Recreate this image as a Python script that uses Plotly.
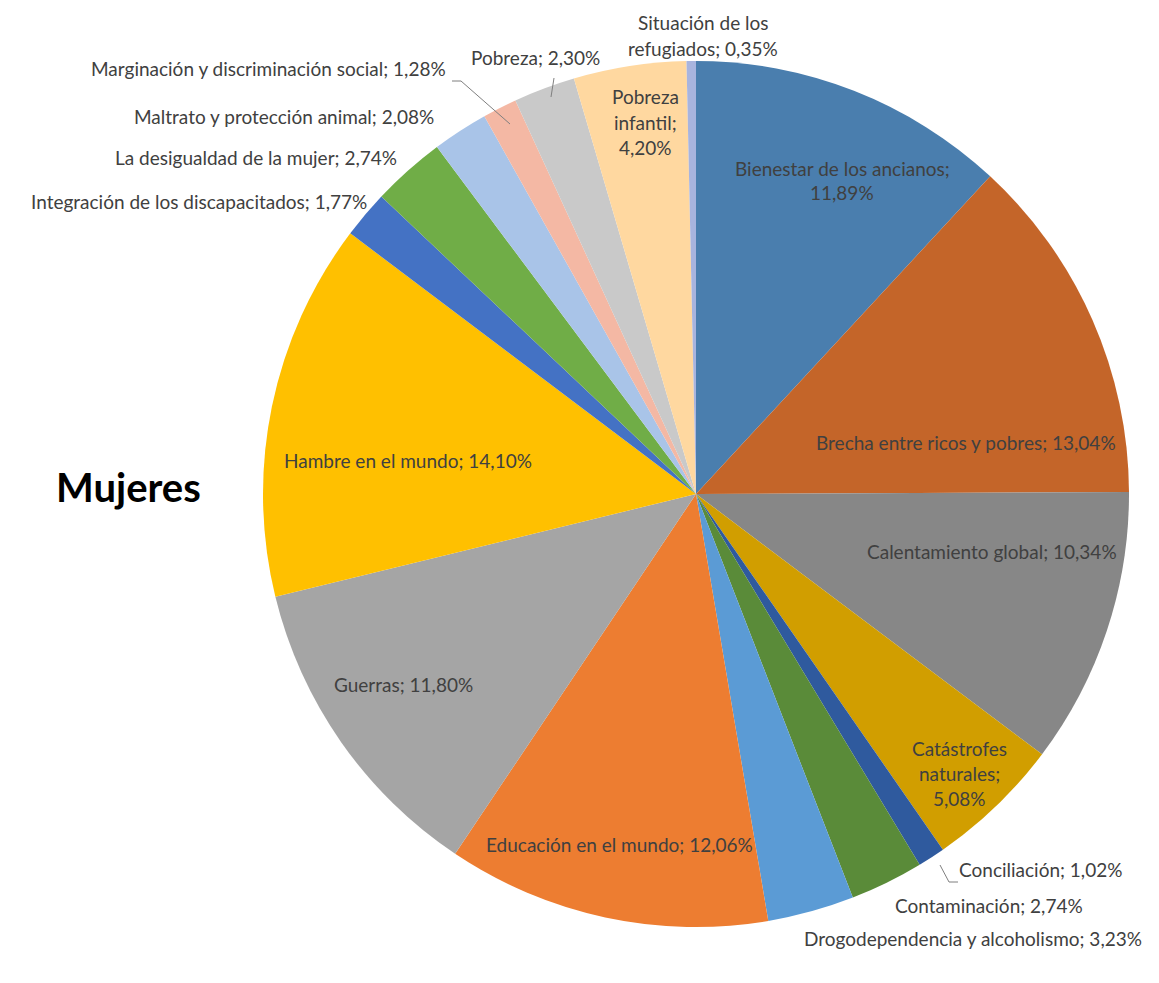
import plotly.graph_objects as go

W, H = 1159, 983

categories = [
    "Bienestar de los ancianos", "Brecha entre ricos y pobres", "Calentamiento global",
    "Catástrofes naturales", "Conciliación", "Contaminación",
    "Drogodependencia y alcoholismo", "Educación en el mundo", "Guerras",
    "Hambre en el mundo", "Integración de los discapacitados",
    "La desigualdad de la mujer", "Maltrato y protección animal",
    "Marginación y discriminación social", "Pobreza", "Pobreza infantil",
    "Situación de los refugiados",
]
values = [11.89, 13.04, 10.34, 5.08, 1.02, 2.74, 3.23, 12.06, 11.80, 14.10,
          1.77, 2.74, 2.08, 1.28, 2.30, 4.20, 0.35]
colors = ["#4A7EAE", "#C46529", "#878787", "#D19E00", "#2F5A9E", "#5A8B39",
          "#5B9BD5", "#ED7D31", "#A5A5A5", "#FFC000", "#4472C4", "#70AD47",
          "#A9C4E8", "#F4B8A4", "#C9C9C9", "#FFD8A0", "#A8B4DE"]

# label text lines (how Excel wrapped them)
label_lines = [
    ["Bienestar de los ancianos;", "{v}"],
    ["Brecha entre ricos y pobres; {v}"],
    ["Calentamiento global; {v}"],
    ["Catástrofes", "naturales;", "{v}"],
    ["Conciliación; {v}"],
    ["Contaminación; {v}"],
    ["Drogodependencia y alcoholismo; {v}"],
    ["Educación en el mundo; {v}"],
    ["Guerras; {v}"],
    ["Hambre en el mundo; {v}"],
    ["Integración de los discapacitados; {v}"],
    ["La desigualdad de la mujer; {v}"],
    ["Maltrato y protección animal; {v}"],
    ["Marginación y discriminación social; {v}"],
    ["Pobreza; {v}"],
    ["Pobreza", "infantil;", "{v}"],
    ["Situación de los", "refugiados; {v}"],
]
# label centres in pixels (x, y of first line), line step
label_pos = [
    (834, 168), (958, 443), (984, 551), (951, 748), (1032, 869), (981, 905),
    (965, 938), (611, 844), (395, 684), (400, 460), (191, 201), (248, 157),
    (276, 116), (260, 69), (527, 58), (637, 97), (695, 23),
]
LINE_STEP = 25
TEXT_DY = -8  # vertical correction for text box centring

# target pie centre / radius in pixels, with a small correction for plotly's placement
cx, cy, r = 696 - 8, 493 - 7, 433

fig = go.Figure(go.Pie(
    labels=categories, values=values, sort=False, direction="clockwise",
    rotation=0, marker=dict(colors=colors, line=dict(width=0)),
    textinfo="none", hoverinfo="label+percent", showlegend=False,
    domain=dict(x=[(cx - r) / W, (cx + r) / W], y=[1 - (cy + r) / H, 1 - (cy - r) / H]),
))

def fmt(v):
    return f"{v:.2f}".replace(".", ",") + "%"

annotations = []
for lines, (px, py), v in zip(label_lines, label_pos, values):
    for i, ln in enumerate(lines):
        annotations.append(dict(
            x=px / W, y=1 - (py + TEXT_DY + i * LINE_STEP) / H, xref="paper", yref="paper",
            text=ln.format(v=fmt(v)), showarrow=False, xanchor="center", yanchor="middle",
            font=dict(family="Lato", size=19, color="#404040"),
        ))

annotations.append(dict(
    x=120 / W, y=1 - 479 / H, xref="paper", yref="paper", text="<b>Mujeres</b>",
    showarrow=False, xanchor="center", yanchor="middle",
    font=dict(family="Lato", size=40, color="#000000"),
))

def path(pts):
    s = "M " + " L ".join(f"{x / W},{1 - y / H}" for x, y in pts)
    return dict(type="path", path=s, xref="paper", yref="paper",
                line=dict(color="#7F7F7F", width=1))

leaders = [
    [(932, 857), (941, 874), (950, 874)],
    [(444, 73), (453, 73), (502, 116)],
    [(546, 70), (543, 89)],
]
shapes = [path(p) for p in leaders]

fig.update_layout(
    width=W, height=H, margin=dict(l=0, r=0, t=0, b=0),
    paper_bgcolor="white", plot_bgcolor="white",
    annotations=annotations, shapes=shapes,
)
fig.write_html("out.html")
